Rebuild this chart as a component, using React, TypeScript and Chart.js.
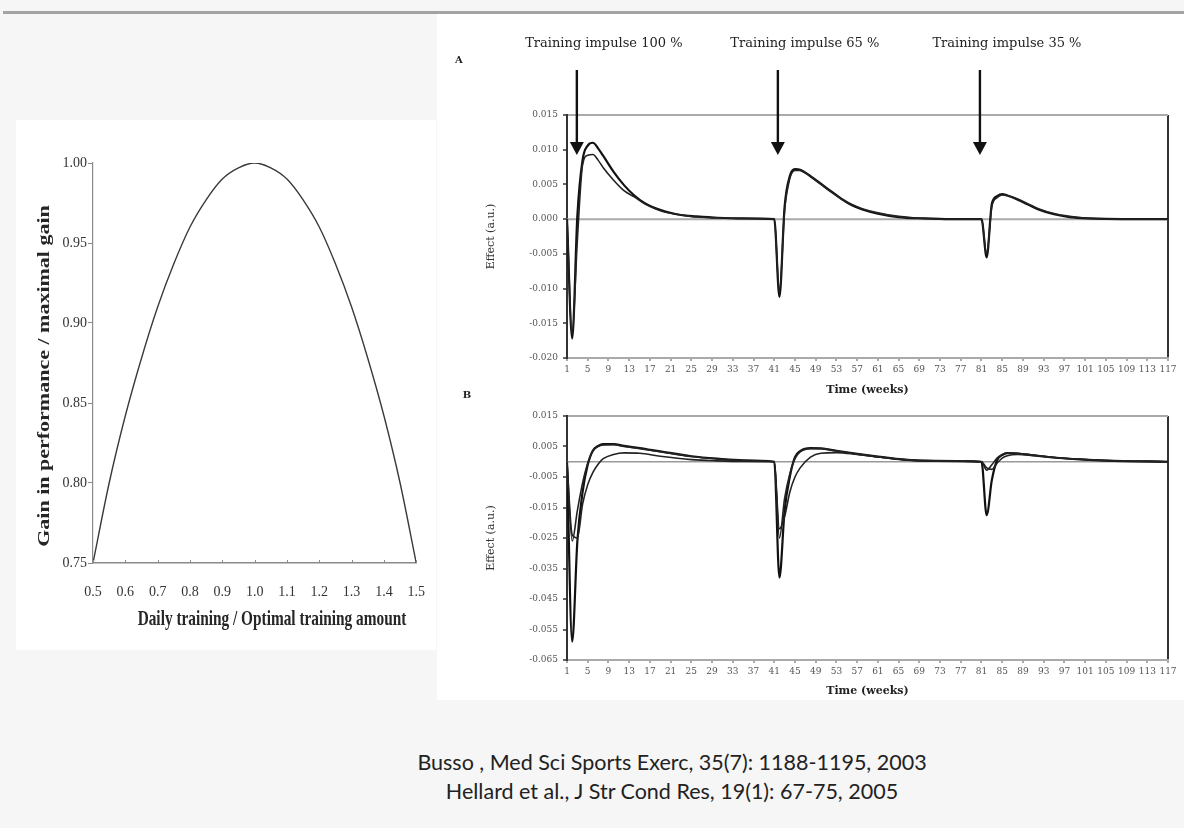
import React, { useEffect, useRef } from "react";
import { Chart, registerables } from "chart.js";

Chart.register(...registerables);

// ---------- Left chart (Busso) ----------
const gainX = [0.5, 0.55, 0.6, 0.65, 0.7, 0.75, 0.8, 0.85, 0.9, 0.95, 1.0, 1.05, 1.1, 1.15, 1.2, 1.25, 1.3, 1.35, 1.4, 1.45, 1.5];
const gainY = [0.75, 0.8, 0.842, 0.878, 0.91, 0.937, 0.96, 0.977, 0.99, 0.997, 1.0, 0.997, 0.99, 0.977, 0.96, 0.937, 0.91, 0.878, 0.842, 0.8, 0.75];
const gainTicksX = [0.5, 0.6, 0.7, 0.8, 0.9, 1.0, 1.1, 1.2, 1.3, 1.4, 1.5];
const gainTicksY = [0.75, 0.8, 0.85, 0.9, 0.95, 1.0];
const gainXTitle = "Daily training / Optimal training amount";
const gainYTitle = "Gain in performance / maximal gain";

// ---------- Right charts (Hellard) ----------
const weekTicks = [1, 5, 9, 13, 17, 21, 25, 29, 33, 37, 41, 45, 49, 53, 57, 61, 65, 69, 73, 77, 81, 85, 89, 93, 97, 101, 105, 109, 113, 117];
const zeroLineWeeks = [1, 117];
const zeroLineValues = [0, 0];

const weeksA = [1, 2, 3, 4, 5, 6, 7, 8, 10, 12, 14, 16, 18, 20, 23, 26, 30, 35, 41, 42, 43, 44, 45, 46, 48, 50, 52, 54, 56, 58, 61, 65, 70, 75, 81, 82, 83, 84, 85, 86, 88, 90, 92, 95, 98, 102, 108, 117];
const effectA1 = [0, -0.0172, 0.0005, 0.0085, 0.0106, 0.011, 0.0102, 0.0091, 0.0068, 0.0049, 0.0034, 0.0023, 0.0016, 0.0011, 0.0006, 0.0004, 0.0002, 0.0001, 0, -0.0112, 0.0018, 0.0062, 0.0072, 0.0071, 0.0062, 0.0051, 0.004, 0.0029, 0.002, 0.0014, 0.0008, 0.0003, 0.0001, 0, 0, -0.0055, 0.0022, 0.0033, 0.0036, 0.0034, 0.0028, 0.0021, 0.0014, 0.0007, 0.0003, 0.0001, 0, 0];
const effectA2 = [0, -0.0165, -0.003, 0.0078, 0.0092, 0.0093, 0.0085, 0.0074, 0.0056, 0.0041, 0.0032, 0.0022, 0.0015, 0.001, 0.0006, 0.0003, 0.0002, 0.0001, 0, -0.0105, 0.0012, 0.0058, 0.007, 0.007, 0.0061, 0.005, 0.0039, 0.0029, 0.0021, 0.0015, 0.0009, 0.0004, 0.0001, 0, 0, -0.005, 0.0018, 0.0031, 0.0035, 0.0034, 0.0029, 0.0022, 0.0015, 0.0008, 0.0004, 0.0001, 0, 0];
const effectTicksA = [-0.02, -0.015, -0.01, -0.005, 0, 0.005, 0.01, 0.015];

const weeksB = [1, 2, 3, 4, 5, 6, 7, 8, 10, 12, 15, 19, 25, 30, 35, 41, 42, 43, 44, 45, 46, 48, 50, 53, 57, 61, 66, 72, 81, 82, 83, 84, 85, 86, 88, 91, 95, 100, 105, 117];
const effectB1 = [0, -0.059, -0.026, -0.01, -0.001, 0.0037, 0.0052, 0.0058, 0.0058, 0.0052, 0.0045, 0.0034, 0.0018, 0.001, 0.0005, 0, -0.038, -0.016, -0.005, 0.0015, 0.0035, 0.0045, 0.0044, 0.0036, 0.0026, 0.0017, 0.0007, 0.0003, 0, -0.0175, -0.006, 0.0005, 0.0022, 0.0028, 0.0027, 0.0021, 0.0014, 0.0008, 0.0004, 0];
const effectB2 = [0, -0.026, -0.016, -0.007, -0.0005, 0.0035, 0.005, 0.0055, 0.0056, 0.005, 0.0043, 0.0033, 0.0017, 0.0009, 0.0004, 0, -0.025, -0.012, -0.004, 0.001, 0.0032, 0.0043, 0.0043, 0.0035, 0.0025, 0.0016, 0.0007, 0.0003, 0, -0.0028, -0.001, 0.0012, 0.0024, 0.0029, 0.0028, 0.0022, 0.0014, 0.0008, 0.0004, 0];
const effectB3 = [0, -0.024, -0.025, -0.014, -0.0075, -0.0035, -0.0008, 0.001, 0.0024, 0.0029, 0.0028, 0.0018, 0.0007, 0.0003, 0.0001, 0, -0.022, -0.018, -0.01, -0.005, -0.002, 0.0015, 0.0028, 0.003, 0.0024, 0.0016, 0.0007, 0.0003, 0, -0.002, -0.0025, -0.0005, 0.0012, 0.002, 0.0024, 0.0021, 0.0014, 0.0008, 0.0004, 0];
const effectTicksB = [-0.065, -0.055, -0.045, -0.035, -0.025, -0.015, -0.005, 0.005, 0.015];

const impulseWeeks = [2.9, 41.7, 80.7];
const impulseLabels = ["Training impulse 100 %", "Training impulse 65 %", "Training impulse 35 %"];

const citations = [
  "Busso , Med Sci Sports Exerc, 35(7): 1188-1195, 2003",
  "Hellard et al., J Str Cond Res, 19(1): 67-75, 2005",
];

const pts = (xs: number[], ys: number[]) => xs.map((x, i) => ({ x, y: ys[i] }));
const SERIF = '"DejaVu Serif", serif';
const TIMES = '"Liberation Serif", serif';
const same = (a: number, b: number) => Math.abs(a - b) < 1e-9;

// ---------- plugins ----------
const leftTitlesPlugin = {
  id: "leftTitles",
  afterDraw(chart: any) {
    const ctx = chart.ctx;
    ctx.save();
    ctx.fillStyle = "#262626";
    ctx.textAlign = "center";
    ctx.textBaseline = "middle";
    ctx.font = `bold 21px ${TIMES}`;
    ctx.translate(256, 500);
    ctx.scale(0.73, 1);
    ctx.fillText(gainXTitle, 0, 0);
    ctx.restore();
    ctx.save();
    ctx.fillStyle = "#262626";
    ctx.textAlign = "center";
    ctx.textBaseline = "middle";
    ctx.font = `bold 22px ${TIMES}`;
    ctx.translate(29, 256);
    ctx.rotate(-Math.PI / 2);
    ctx.scale(1, 0.72);
    ctx.fillText(gainYTitle, 0, 0);
    ctx.restore();
    // small inward tick marks on the x axis
    const xs = chart.scales.x;
    const bottom = chart.chartArea.bottom;
    ctx.save();
    ctx.strokeStyle = "#8a8a8a";
    ctx.lineWidth = 1;
    gainTicksX.forEach((v) => {
      const x = Math.round(xs.getPixelForValue(v)) + 0.5;
      ctx.beginPath();
      ctx.moveTo(x, bottom);
      ctx.lineTo(x, bottom - 3);
      ctx.stroke();
    });
    ctx.restore();
  },
};

const arrowsPlugin = {
  id: "arrows",
  afterDraw(chart: any) {
    const ctx = chart.ctx;
    const xs = chart.scales.x;
    ctx.save();
    ctx.fillStyle = "#111";
    ctx.strokeStyle = "#111";
    ctx.lineWidth = 2.4;
    impulseWeeks.forEach((w, i) => {
      const x = xs.getPixelForValue(w);
      ctx.beginPath();
      ctx.moveTo(x, 56);
      ctx.lineTo(x, 130);
      ctx.stroke();
      ctx.beginPath();
      ctx.moveTo(x - 7, 128);
      ctx.lineTo(x + 7, 128);
      ctx.lineTo(x, 141);
      ctx.closePath();
      ctx.fill();
      ctx.font = `13px ${SERIF}`;
      ctx.textAlign = "center";
      ctx.textBaseline = "middle";
      ctx.fillStyle = "#222";
      ctx.fillText(impulseLabels[i], x + 27, 30);
      ctx.fillStyle = "#111";
    });
    ctx.restore();
  },
};

const panelLabelPlugin = (label: string, x: number, y: number) => ({
  id: "panelLabel" + label,
  afterDraw(chart: any) {
    const ctx = chart.ctx;
    ctx.save();
    ctx.fillStyle = "#222";
    ctx.font = `bold 10px ${SERIF}`;
    ctx.textAlign = "center";
    ctx.textBaseline = "middle";
    ctx.fillText(label, x, y);
    ctx.restore();
  },
});

// ---------- configs ----------
function leftConfig(): any {
  return {
    type: "line",
    data: {
      datasets: [
        {
          data: pts(gainX, gainY),
          borderColor: "#3a3a3a",
          borderWidth: 1.4,
          pointRadius: 0,
          fill: false,
          cubicInterpolationMode: "monotone",
        },
      ],
    },
    options: {
      animation: false,
      responsive: false,
      layout: { padding: { left: 27, top: 43, right: 11, bottom: 27 } },
      plugins: { legend: { display: false }, tooltip: { enabled: false } },
      scales: {
        x: {
          type: "linear",
          min: 0.5,
          max: 1.5,
          afterBuildTicks: (a: any) => { a.ticks = gainTicksX.map((v) => ({ value: v })); },
          afterFit: (s: any) => { s.height = 60; },
          ticks: {
            callback: (v: any) => Number(v).toFixed(1),
            font: { family: TIMES, size: 14 },
            color: "#333",
            padding: 21,
            maxRotation: 0,
            autoSkip: false,
          },
          grid: { display: true, drawOnChartArea: false, drawTicks: false },
          border: { color: "#8a8a8a", width: 1.5 },
        },
        y: {
          min: 0.75,
          max: 1.0,
          afterBuildTicks: (a: any) => { a.ticks = gainTicksY.map((v) => ({ value: v })); },
          afterFit: (s: any) => { s.width = 50; },
          ticks: {
            callback: (v: any) => Number(v).toFixed(2),
            font: { family: TIMES, size: 14 },
            color: "#333",
            padding: 1,
          },
          grid: { display: true, drawOnChartArea: false, tickLength: 5, tickColor: "#8a8a8a" },
          border: { color: "#8a8a8a", width: 1.2 },
        },
      },
    },
    plugins: [leftTitlesPlugin],
  };
}

function effectScales(ticks: number[], min: number, max: number, xHeight: number, xTitlePad: number): any {
  return {
    x: {
      type: "linear",
      min: 1,
      max: 117,
      afterBuildTicks: (a: any) => { a.ticks = weekTicks.map((v) => ({ value: v })); },
      afterFit: (s: any) => { s.height = xHeight; },
      ticks: {
        callback: (v: any) => String(v),
        font: { family: SERIF, size: 9 },
        color: "#555",
        padding: 3.6,
        maxRotation: 0,
        autoSkip: false,
      },
      grid: {
        color: (c: any) => (c.tick && same(c.tick.value, 117) ? "#333" : "rgba(0,0,0,0)"),
        lineWidth: 2,
        tickLength: 3,
        tickColor: "#aaa",
      },
      border: { color: "#aaa", width: 2 },
      title: {
        display: true,
        text: "Time (weeks)",
        font: { family: SERIF, size: 11, weight: "bold" },
        color: "#222",
        padding: { top: 0, bottom: xTitlePad },
      },
    },
    y: {
      min,
      max,
      afterBuildTicks: (a: any) => { a.ticks = ticks.map((v) => ({ value: v })); },
      afterFit: (s: any) => { s.width = 87; },
      ticks: {
        callback: (v: any) => Number(v).toFixed(3),
        font: { family: SERIF, size: 9 },
        color: "#555",
        padding: 5,
      },
      grid: {
        color: (c: any) => (c.tick && same(c.tick.value, max) ? "#aaa" : "rgba(0,0,0,0)"),
        lineWidth: 2,
        tickLength: 4,
        tickColor: "#666",
      },
      border: { color: "#333", width: 2 },
      title: {
        display: true,
        text: "Effect (a.u.)",
        font: { family: SERIF, size: 11 },
        color: "#333",
        padding: { top: 5, bottom: 0 },
      },
    },
  };
}

const lineDs = (data: any[], width: number, color = "#111") => ({
  data,
  borderColor: color,
  borderWidth: width,
  pointRadius: 0,
  fill: false,
  cubicInterpolationMode: "monotone",
});

function configA(): any {
  return {
    type: "line",
    data: {
      datasets: [
        { ...lineDs(pts(zeroLineWeeks, zeroLineValues), 2, "#aaa"), order: 10 },
        lineDs(pts(weeksA, effectA2), 1.6, "#222"),
        lineDs(pts(weeksA, effectA1), 2.2),
      ],
    },
    options: {
      animation: false,
      responsive: false,
      layout: { padding: { left: 40, top: 101, right: 16, bottom: 0 } },
      plugins: { legend: { display: false }, tooltip: { enabled: false } },
      scales: effectScales(effectTicksA, -0.02, 0.015, 42, 3.4),
    },
    plugins: [arrowsPlugin, panelLabelPlugin("A", 19, 46)],
  };
}

function configB(): any {
  return {
    type: "line",
    data: {
      datasets: [
        { ...lineDs(pts(zeroLineWeeks, zeroLineValues), 1.5, "#999"), order: 10 },
        lineDs(pts(weeksB, effectB3), 1.6, "#222"),
        lineDs(pts(weeksB, effectB2), 1.6, "#222"),
        lineDs(pts(weeksB, effectB1), 2.2),
      ],
    },
    options: {
      animation: false,
      responsive: false,
      layout: { padding: { left: 40, top: 31, right: 16, bottom: 0 } },
      plugins: { legend: { display: false }, tooltip: { enabled: false } },
      scales: effectScales(effectTicksB, -0.065, 0.015, 40, 2.4),
    },
    plugins: [panelLabelPlugin("B", 27, 10)],
  };
}

function ChartCanvas(props: { make: () => any; left: number; top: number; width: number; height: number }) {
  const ref = useRef<HTMLCanvasElement | null>(null);
  useEffect(() => {
    const chart = new Chart(ref.current as HTMLCanvasElement, props.make());
    return () => chart.destroy();
  }, []);
  return (
    <canvas
      ref={ref}
      width={props.width}
      height={props.height}
      style={{ position: "absolute", left: props.left, top: props.top, width: props.width, height: props.height }}
    />
  );
}

export default function App() {
  return (
    <div
      style={{
        position: "absolute",
        left: 0,
        top: 0,
        width: 1184,
        height: 828,
        background: "#f6f6f6",
        overflow: "hidden",
      }}
    >
      <div style={{ position: "absolute", left: 3, top: 11, width: 1181, height: 3, background: "#a3a3a3" }} />
      <div style={{ position: "absolute", left: 437, top: 14, width: 747, height: 686, background: "#ffffff" }} />
      <div style={{ position: "absolute", left: 16, top: 120, width: 420, height: 530, background: "#ffffff" }} />
      <ChartCanvas make={leftConfig} left={16} top={120} width={430} height={530} />
      <ChartCanvas make={configA} left={440} top={14} width={744} height={386} />
      <ChartCanvas make={configB} left={440} top={385} width={744} height={315} />
      <div
        style={{
          position: "absolute",
          left: 322,
          top: 748,
          width: 700,
          textAlign: "center",
          fontFamily: "Lato, sans-serif",
          fontSize: 21.5,
          lineHeight: "29px",
          color: "#222",
        }}
      >
        {citations.map((c, i) => (
          <div key={i}>{c}</div>
        ))}
      </div>
    </div>
  );
}
